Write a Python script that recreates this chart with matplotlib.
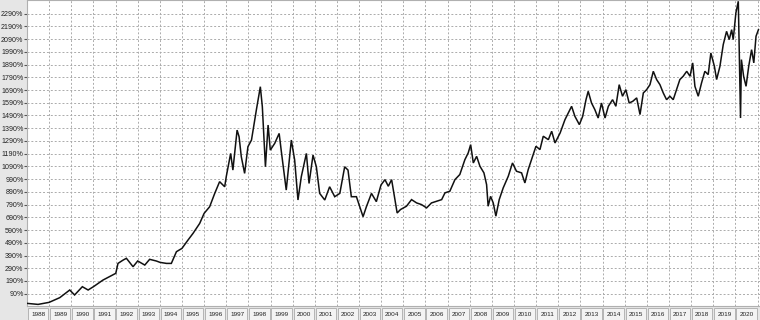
import matplotlib
matplotlib.use("Agg")
import matplotlib.pyplot as plt
from matplotlib.patches import Rectangle

# time (decimal year) and cumulative return (%)
t = [1988.00, 1988.50, 1989.00, 1989.48, 1989.93, 1990.15, 1990.50, 1990.76,
     1991.00, 1991.43, 1992.01, 1992.11, 1992.34, 1992.49, 1992.79, 1993.00,
     1993.32, 1993.54, 1993.84, 1994.01, 1994.30, 1994.52, 1994.75, 1995.00,
     1995.27, 1995.50, 1995.80, 1996.00, 1996.25, 1996.48, 1996.70, 1996.93,
     1997.00, 1997.20, 1997.30, 1997.49, 1997.58, 1997.68, 1997.83, 1997.98,
     1998.14, 1998.36, 1998.54, 1998.63, 1998.77, 1998.89, 1998.99, 1999.19,
     1999.39, 1999.49, 1999.71, 1999.94, 2000.09, 2000.24, 2000.39, 2000.62,
     2000.74, 2000.92, 2001.07, 2001.22, 2001.45, 2001.67, 2001.90, 2002.13,
     2002.35, 2002.50, 2002.65, 2002.88, 2003.18, 2003.33, 2003.56, 2003.78,
     2003.99, 2004.17, 2004.32, 2004.47, 2004.62, 2004.72, 2004.87, 2005.14,
     2005.37, 2005.60, 2005.82, 2006.05, 2006.27, 2006.50, 2006.73, 2006.88,
     2007.10, 2007.33, 2007.55, 2007.78, 2007.93, 2008.04, 2008.16, 2008.31,
     2008.46, 2008.64, 2008.76, 2008.83, 2008.94, 2009.06, 2009.18, 2009.33,
     2009.51, 2009.74, 2009.93, 2010.11, 2010.34, 2010.49, 2010.64, 2010.79,
     2010.99, 2011.17, 2011.32, 2011.55, 2011.70, 2011.85, 2012.08, 2012.30,
     2012.45, 2012.60, 2012.75, 2012.95, 2013.10, 2013.25, 2013.35, 2013.50,
     2013.65, 2013.80, 2013.95, 2014.11, 2014.26, 2014.45, 2014.60, 2014.75,
     2014.90, 2015.05, 2015.20, 2015.36, 2015.54, 2015.69, 2015.84, 2015.99,
     2016.14, 2016.29, 2016.44, 2016.59, 2016.74, 2016.89, 2017.04, 2017.19,
     2017.34, 2017.49, 2017.64, 2017.80, 2017.95, 2018.07, 2018.17, 2018.32,
     2018.47, 2018.62, 2018.77, 2018.89, 2019.05, 2019.15, 2019.30, 2019.45,
     2019.60, 2019.72, 2019.83, 2019.90, 2020.02, 2020.13, 2020.17, 2020.23,
     2020.27, 2020.37, 2020.48, 2020.60, 2020.73, 2020.83, 2020.93, 2021.04]

pct = [14, 6, 22, 59, 119, 80, 145, 119,
       145, 197, 250, 328, 354, 368, 302, 347,
       315, 360, 347, 336, 328, 328, 420, 446,
       511, 564, 642, 721, 773, 878, 970, 930,
       1009, 1192, 1061, 1375, 1323, 1166, 1035, 1245,
       1297, 1533, 1716, 1559, 1087, 1415, 1218, 1271,
       1349, 1205, 904, 1297, 1140, 826, 1009, 1192,
       956, 1179, 1087, 878, 826, 930, 852, 878,
       1087, 1061, 852, 852, 695, 773, 878, 813,
       944, 986, 934, 986, 829, 724, 751, 777,
       829, 803, 790, 764, 803, 816, 829, 882,
       895, 986, 1026, 1143, 1196, 1261, 1117, 1169,
       1091, 1039, 947, 777, 855, 803, 699, 829,
       921, 1013, 1117, 1052, 1039, 960, 1065, 1143,
       1248, 1222, 1327, 1300, 1366, 1274, 1352, 1457,
       1510, 1562, 1483, 1418, 1483, 1614, 1680, 1588,
       1536, 1470, 1588, 1470, 1562, 1614, 1562, 1732,
       1641, 1693, 1588, 1601, 1628, 1497, 1667, 1693,
       1732, 1837, 1772, 1732, 1667, 1614, 1641, 1614,
       1693, 1772, 1798, 1837, 1798, 1903, 1719, 1641,
       1746, 1837, 1811, 1981, 1876, 1772, 1876, 2047,
       2151, 2086, 2164, 2086, 2295, 2387, 2007, 1470,
       1929, 1798, 1719, 1876, 2007, 1903, 2112, 2164]

years = list(range(1988, 2021))
y_ticks = list(range(90, 2291, 100))

W, H = 760, 320
fig = plt.figure(figsize=(W / 100, H / 100), dpi=100)
fig.patch.set_facecolor("#e6e6e6")

left, bottom = 27, 14
ax = fig.add_axes([left / W, bottom / H, (W - left) / W, (H - bottom) / H])
ax.set_facecolor("white")
ax.plot(t, pct, color="#111111", lw=1.1, solid_joinstyle="miter", zorder=3)

ax.set_xlim(1988.0, 2021.11)
ax.set_ylim(-6.6, 2397)
ax.set_xticks(years + [2021])
ax.set_yticks(y_ticks)
ax.set_yticklabels([f"{v}%" for v in y_ticks], fontsize=5.1,
                   family="Liberation Sans", color="#222222")
ax.tick_params(axis="x", length=0, labelbottom=False)
ax.tick_params(axis="y", length=2, width=0.8, color="#555555", pad=0.5)
ax.grid(True, color="#ababab", lw=0.7, linestyle=(0, (2, 2)))
for s in ax.spines.values():
    s.set_color("#b0b0b0")
    s.set_linewidth(0.8)
ax.spines["right"].set_visible(False)

# year strip under the plot
ax2 = fig.add_axes([left / W, 0, (W - left) / W, (bottom - 1) / H])
ax2.set_xlim(1988.0, 2021.11)
ax2.set_ylim(0, 1)
ax2.axis("off")
for y in years:
    ax2.add_patch(Rectangle((y + 0.04, 0.0), 0.92, 0.92, facecolor="#f3f3f3",
                            edgecolor="#b4b4b4", lw=0.7))
    ax2.text(y + 0.5, 0.42, str(y), ha="center", va="center", fontsize=4.6,
             family="Liberation Sans", color="#222222")

fig.savefig("out.png", dpi=100, facecolor=fig.get_facecolor())
